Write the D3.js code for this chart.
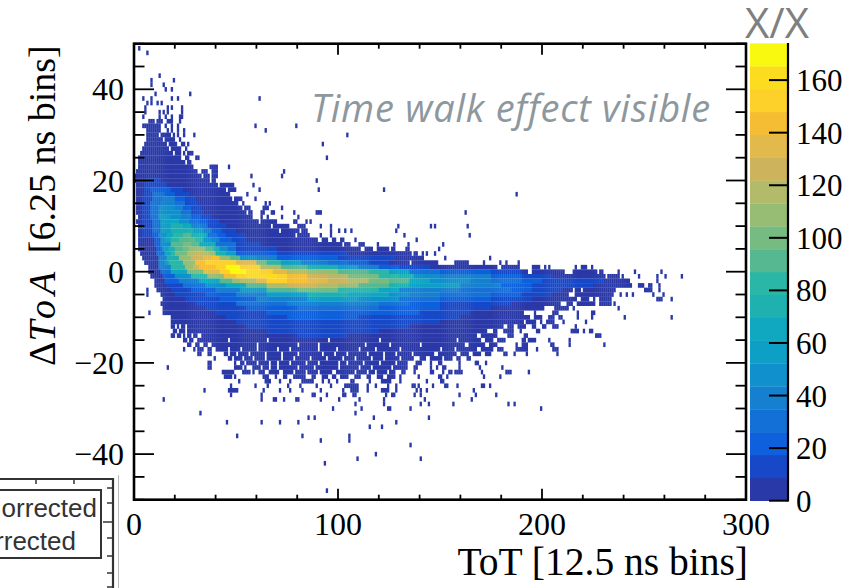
<!DOCTYPE html>
<html><head><meta charset="utf-8">
<script src="https://cdn.jsdelivr.net/npm/d3@7/dist/d3.min.js"></script>
<style>html,body{margin:0;padding:0;background:#fff}svg{display:block}text{font-family:"Liberation Serif",serif;fill:#000}</style>
</head><body><svg id="c" width="845" height="588"></svg>
<script>
const xTicks=[0,100,200,300];
const yTicks=[-40,-20,0,20,40];
const zTicks=[0,20,40,60,80,100,120,140,160];
const levelCodes="abcdefghijklmnopqrst";
const bandColors=["#2a39a8","#1748c8","#0f60dc","#1370d6","#1580d0","#1090cc","#0e9fc6","#0fa8c0","#1fb0b0","#2bb7a8","#55b890","#76bb82","#97bc73","#b2bb6a","#cdb45c","#e2b94b","#f4bd33","#fdd02a","#fbdc1e","#f9f90f"];
// [ΔToA bin, runs]: a letter is the colour level, "." is empty, the number is the ToT bin where the run ends
const heatRows=[
[49,".2a3"],[48,".6a7"],[43,".12a13"],[42,".8a9.19a20"],[41,".8a9.14a15"],[40,".15a16.18a19"],[39,".10a11.27a28"],
[38,".4a5.8a9.18a19.21a22.61a62"],[37,".6a7.8a9.11a12.13a14"],[36,".5a6.16a17.18a19.23a24"],[35,".5a6.12a13.14a15.16a17.23a24"],
[34,".4a5.12a13.15a16.18a19.22a24"],[33,".7a10.11a14.16a19.22a23"],[32,".4a13.15a16.18a19.21a22.59a60.79a80"],
[31,".6a13.16a17.18a19.21a22.24a25.64a65"],[30,".6a12.13a18.19a20.21a22.24a25.29a30.104a105"],[29,".6a14.15a20.22a23"],
[28,".5a16.17a21.23a25.26a27.92a93"],[27,".4a17.18a23.25a26"],[26,".3a19.20a23.24a25.26a29"],[25,".2a23.25a27.30a32.94a95"],
[24,".2a25.26a28"],[23,".2a29.37a41.46a47"],[22,".1a31.33a36.38a41.73a74"],[21,"a33.34a37.38a41.57a58.72a73"],
[20,"a6b13a37.38a40.89a90"],[19,".1a5b16a41.42a49.58a59"],[18,".1a5b8c18b24a45.46a50.61a62.90a91.122a123"],
[17,".1a5b9d15c20b27a47.55a56.187a188"],[16,".1a4b9d14e20c25b30a48.49a53.59a60"],[15,".1a4b8d13e20d25b31a51.53a54.64a65.66a67"],
[14,".1a4b8d12f20e24c28b33a53.54a57.63a66.72a73"],[13,".1a4b8d12f23d28b34a55.56a58.62a64.67a69.78a79.89a92.162a163"],
[12,".2a4b8d12g18f23e28c33b38a58.62a63.65a66.72a73.80a81"],[11,".1a4b9d13g18h22f27d32c36b42a61.62a70.78a80.84a85.86a87"],
[10,".2a4b9d13g18i24h28e33d36b45a67.68a76.80a84.91a92.96a97.129a130.145a146.147a148.163a164"],
[9,".2a4b9d13g18i29g34e38c43b50a71.72a81.82a85.96a97.100a101.103a104.106a107.128a129"],
[8,".2a4b9c12f16h19j24k28i34h36d41c45b55a79.80a86.91a92.96a97.132a133.164a165"],
[7,".2a10c13f15h18j22k30j34f38e42c48b55a90.92a95.97a99.101a103.108a109.138a139"],
[6,".2a10c13f18k24l28k32h40d50b62a102.103a106.110a113.119a120.127a128.134a135.151a152"],
[5,".2a11c13d14g17i20k24l27m35k39i42f46d50b70a111.113a117.119a125.126a128.133a135.149a150"],
[4,".3a11d15h18j20l26n30o33n37m40i45g50c70b105a136.137a139.141a142.143a144.147a148"],
[3,".4a12e16i22m28o34p38q42m47k52f60e70c100b128a142.152a153.174a175"],
[2,".5a12e15g17j24m30q35r50p60l65j72g82e95d105c115b125a135.136a149.157a164.171a172.179a180.182a183.188a189"],
[1,".7a12e18j25m29o32q40r45t52r62n72k85i100g110e120c130b145a178.180a189.195a199.201a202.203a204.216a217.219a222.224a225"],
[0,".7a13d18h26l34p42r47t55s62r68p75n85m100k115j125g135d150c175b190a193.195a211.215a227.228a230.237a238.245a246.258a259"],
[-1,".8a14c20f28j36m44q50r55s70r75q85o95n105l120j130i137f150e175c190b205a231.232a238.239a240.247a248.256a257.260a261.268a269"],
[-2,".10a15c22e32h42k48m52n60p65r75q85p95o105n115l125k135h145f165e175d190c200b230a243.256a257"],
[-3,".10a16b24d35f45h55k65n75o90n100m110k125i135g160e180c195b225a244.247a250.252a254.257a258"],
[-4,".6a7.11a18b28c40e52g65k80l100j120h130e160d185c195b210a215.216a219.220a236.250a254.257a258"],
[-5,".6a7.13a20b35c50e65g85i105h125f135e150d175c190b205a213.216a235.238a239.241a242.244a245.254a255.259a260"],
[-6,".14a25b42c60e85g110f130d150c175b195a217.219a223.225a226.228a234.256a259.263a264"],
[-7,".13a30b50d75e120d135c150b185a209.212a215.217a226.228a234.235a236"],
[-8,".14a35b55c80d120c150b175a201.206a213.215a216.237a238"],
[-9,".7a8.14a40b65c140b165a191.196a197.205a208.217a218.224a226"],
[-10,".18a45b75c110b160a194.196a200.203a206.208a210.217a218.224a225.240a241.263a264"],
[-11,".18a50b150a191.192a197.199a200.202a206.210a211.221a222"],
[-12,".18a20.21a22.23a25.26a55b135a181.183a186.188a192.195a197.200a202.205a208.216a217"],
[-13,".19a21.22a25.26a65b120a173.176a178.181a186.189a190.197a199.214a218.220a221.223a225"],
[-14,".18a20.21a23.24a25.26a28.29a31.33a80b105a168.170a178.183a186.191a193.226a229"],
[-15,".24a26.27a29.31a46.47a65.66a95.96a120.121a158.159a170.172a176.178a182.190a192.193a197.203a204.213a214"],
[-16,".26a28.30a32.34a36.38a60.61a80.81a90.91a113.114a125.126a140.141a162.164a172.174a178.187a188.190a193.204a206.213a214.230a231"],
[-17,".24a25.29a30.31a34.36a38.40a46.47a52.53a60.61a70.71a76.77a90.91a99.100a110.111a118.119a130.131a150.151a157.158a168.170a176.178a181.187a193.197a198.205a208"],
[-18,".31a33.36a38.44a46.47a50.51a56.57a64.65a72.73a80.81a92.93a98.99a104.105a114.115a122.123a128.129a136.137a147.149a158.160a164.166a170.172a175.181a183.186a187.192a193.207a208"],
[-19,".39a40.46a48.49a53.54a58.59a64.65a72.73a78.79a86.87a94.95a102.103a108.109a116.117a122.123a130.131a137.140a143.145a151.152a156.158a160.163a165"],
[-20,".36a38.49a50.52a54.55a60.61a66.67a70.71a76.77a84.85a90.91a100.101a104.105a112.113a120.121a128.129a134.138a141.145a146.149a151.159a160.167a169.172a173"],
[-21,".16a17.36a38.49a53.54a55.58a62.63a66.67a70.71a80.81a88.89a100.101a110.111a116.117a126.127a134.137a139.145a146.148a149.151a153.159a160.169a170.180a181"],
[-22,".43a49.53a57.58a59.61a64.66a71.73a78.79a84.85a90.91a97.99a108.109a114.115a118.119a124.125a128.131a133.137a138.145a147.151a152.154a156.157a161.170a171.182a185.193a194"],
[-23,".44a48.49a50.63a66.69a70.73a75.78a84.87a89.92a95.97a99.101a105.108a111.114a116.119a122.124a128.130a131.139a140.149a151.153a154.171a172.179a180"],
[-24,".51a52.64a67.71a72.76a77.82a88.92a93.95a96.99a100.106a108.115a116.121a126.130a131.143a144.150a152"],
[-25,".47a48.59a60.65a66.75a76.81a82.89a90.96a97.103a110.114a115.118a119.124a125.128a129.136a138.139a140.146a147.152a154.158a159.170a172.174a175"],
[-26,".34a35.46a51.63a64.71a72.76a77.82a83.91a92.102a103.106a110.114a115.121a125.128a129.138a139.140a141.143a144.166a167"],
[-27,".47a48.62a63.87a89.94a95.102a104.107a109.123a124.126a128.137a138.140a141.159a160.167a168.177a178"],
[-28,".14a15.62a63.68a70.73a74.79a81.91a92.100a101.110a111.122a123.142a143.165a166"],
[-29,".108a109.122a123.140a141.144a145.156a157.183a184.186a187"],
[-30,".97a98.111a112.124a126.135a136.199a200"],[-31,".32a33.108a109"],[-32,".85a86.88a89.117a118.144a145"],
[-33,".45a46.62a63.71a72.80a81.128a129"],[-34,".115a116.121a122"],[-36,".50a51.82a83.105a106"],[-37,".91a92.105a106"],
[-38,".135a136"],[-40,".118a119"],[-41,".109a110.140a141"],[-42,".93a94"],[-48,".94a95"]
];
const svg=d3.select("#c");
const L=134,R=746,T=43.7,B=499.7;
const x=d3.scaleLinear().domain([0,300]).range([L,R]);
const y=d3.scaleLinear().domain([-50,50]).range([B,T]);
const zTop=174;
const z=d3.scaleLinear().domain([0,zTop]).range([500.7,43.3]);
const bandW=zTop/bandColors.length;
const color=d3.scaleQuantize().domain([0,zTop]).range(bandColors);
const cells=[];
for(const [r,s] of heatRows){let at=0;for(const m of s.matchAll(/([.a-t])(\d+)/g)){const end=+m[2];if(m[1]!=="."){for(let i=at;i<end;i++)cells.push({t:i,r,v:(levelCodes.indexOf(m[1])+.5)*bandW});}at=end;}}
const defs=svg.append("defs");
defs.append("filter").attr("id","soft").attr("x","-2%").attr("y","-2%").attr("width","104%").attr("height","104%").append("feGaussianBlur").attr("stdDeviation",0.4);
svg.append("g").attr("filter","url(#soft)").selectAll("rect").data(cells).join("rect")
 .attr("x",d=>x(d.t)).attr("y",d=>y(d.r+.5)).attr("width",x(1)-x(0)+.3).attr("height",y(0)-y(1)+.1).attr("fill",d=>color(d.v));
// frame and ticks
const F=svg.append("g").attr("stroke","#000").attr("fill","none");
F.append("rect").attr("x",L).attr("y",T).attr("width",R-L).attr("height",B-T).attr("stroke-width",2.6);
d3.range(0,301,20).forEach(v=>{const len=v%100===0?11:5;F.append("line").attr("x1",x(v)).attr("x2",x(v)).attr("y1",B).attr("y2",B-len).attr("stroke-width",1.8);F.append("line").attr("x1",x(v)).attr("x2",x(v)).attr("y1",T).attr("y2",T+len).attr("stroke-width",1.8);});
d3.range(-50,51,5).forEach(v=>{const len=v%20===0?20:10.5;F.append("line").attr("x1",L).attr("x2",L+len).attr("y1",y(v)).attr("y2",y(v)).attr("stroke-width",1.8);F.append("line").attr("x1",R).attr("x2",R-len).attr("y1",y(v)).attr("y2",y(v)).attr("stroke-width",1.8);});
svg.selectAll("text.xt").data(xTicks).join("text").attr("class","xt").attr("x",d=>x(d)).attr("y",535).attr("text-anchor","middle").attr("font-size",32).text(d=>d);
svg.selectAll("text.yt").data(yTicks).join("text").attr("class","yt").attr("x",124).attr("y",d=>y(d)+11).attr("text-anchor","end").attr("font-size",32).text(d=>d<0?"\u2212"+(-d):d);
// colour bar
svg.append("g").selectAll("rect").data(bandColors).join("rect").attr("x",750).attr("width",38)
 .attr("y",(c,i)=>z((i+1)*bandW)).attr("height",z(0)-z(bandW)+.3).attr("fill",c=>c);
const CB=svg.append("g").attr("stroke","#000");
CB.append("line").attr("x1",788).attr("x2",788).attr("y1",43).attr("y2",501.5).attr("stroke-width",2.2);
zTicks.forEach(v=>CB.append("line").attr("x1",769).attr("x2",788).attr("y1",z(v)).attr("y2",z(v)).attr("stroke-width",2));
svg.selectAll("text.zt").data(zTicks).join("text").attr("class","zt").attr("x",796).attr("y",d=>z(d)+11).attr("font-size",31).text(d=>d);
svg.append("text").attr("x",745).attr("y",38).attr("font-size",42).style("font-family","'Open Sans',sans-serif").style("fill","#7f7f7f").text("X/X");
svg.append("text").attr("x",748).attr("y",575).attr("text-anchor","end").attr("font-size",39.5).text("ToT [12.5 ns bins]");
const yl=svg.append("text").attr("transform","translate(55,366) rotate(-90)").attr("font-size",38);
yl.append("tspan").text("\u0394");
yl.append("tspan").attr("font-style","italic").attr("letter-spacing",5).text("ToA");
yl.append("tspan").attr("dx",4).text(" [6.25 ns bins]");
svg.append("text").attr("x",311).attr("y",122).attr("font-size",38).attr("font-style","italic").attr("letter-spacing",0.75).style("font-family","'Open Sans',sans-serif").style("fill","#8d989e").text("Time walk effect visible");
// neighbouring panel fragment
const P=svg.append("g").attr("stroke","#333").attr("fill","none");
P.append("path").attr("d","M0 479H113V588").attr("stroke-width",2.2);
P.append("path").attr("d","M0 490H101V558H0").attr("stroke-width",2).attr("fill","#fff");
[36,74].forEach(v=>P.append("line").attr("x1",v).attr("x2",v).attr("y1",479).attr("y2",484).attr("stroke-width",1.5));
[488,503,538,556,573,587].forEach(v=>P.append("line").attr("x1",113).attr("x2",107).attr("y1",v).attr("y2",v).attr("stroke-width",1.5));
P.append("line").attr("x1",113).attr("x2",103).attr("y1",522).attr("y2",522).attr("stroke-width",1.5);
svg.append("line").attr("x1",118.5).attr("x2",118.5).attr("y1",475).attr("y2",588).attr("stroke","#bbb").attr("stroke-width",1);
svg.append("text").attr("x",97).attr("y",517).attr("text-anchor","end").attr("font-size",26).style("font-family","'Liberation Sans',sans-serif").style("fill","#333").text("orrected");
svg.append("text").attr("x",76).attr("y",550).attr("text-anchor","end").attr("font-size",26).style("font-family","'Liberation Sans',sans-serif").style("fill","#333").text("rrected");
</script></body></html>
